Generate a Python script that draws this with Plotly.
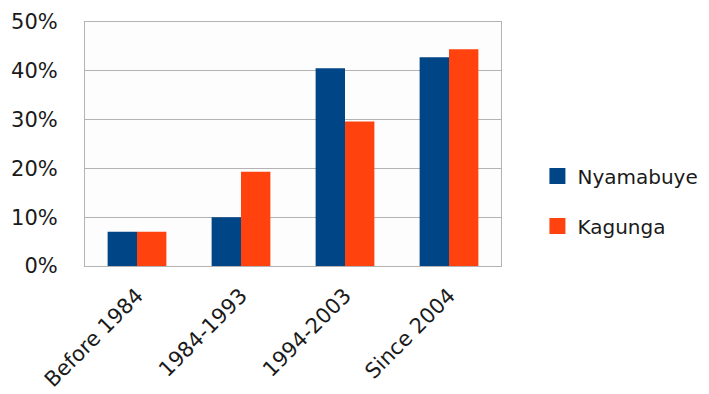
import plotly.graph_objects as go

categories = ["Before 1984", "1984-1993", "1994-2003", "Since 2004"]
nyamabuye = [0.070, 0.100, 0.405, 0.428]
kagunga = [0.070, 0.193, 0.296, 0.444]
series_names = ["Nyamabuye", "Kagunga"]
series_colors = ["#004586", "#FF420E"]
y_ticks = [0, 0.1, 0.2, 0.3, 0.4, 0.5]
y_tick_labels = ["0%", "10%", "20%", "30%", "40%", "50%"]

FONT = "DejaVu Sans"
TEXT = "#1a1a1a"
GRID = "#b3b3b3"

fig = go.Figure()
for name, vals, col in zip(series_names, [nyamabuye, kagunga], series_colors):
    fig.add_trace(go.Bar(
        x=categories, y=vals, name=name, marker_color=col,
        marker_line_width=0, showlegend=False,
    ))
    # legend entry drawn with a larger square swatch
    fig.add_trace(go.Scatter(
        x=[None], y=[None], mode="markers", name=name, legendgroup=name,
        marker=dict(symbol="square", size=16, color=col),
    ))

fig.update_layout(
    width=709, height=394,
    margin=dict(l=85, r=208, t=22, b=128, autoexpand=False),
    paper_bgcolor="white", plot_bgcolor="#fdfdfd",
    barmode="group", bargap=0.435, bargroupgap=0,
    font=dict(family=FONT, size=21, color=TEXT),
    legend=dict(
        xref="container", yref="container",
        x=0.758, y=0.49, xanchor="left", yanchor="middle",
        font=dict(family=FONT, size=20, color=TEXT),
        tracegroupgap=21, bgcolor="rgba(0,0,0,0)",
    ),
    xaxis=dict(
        tickangle=-45, showgrid=False, showline=True, linecolor=GRID,
        linewidth=1, mirror=True, ticks="", tickfont=dict(size=21),
        ticklabelstandoff=8,
    ),
    yaxis=dict(
        range=[0, 0.5], tickvals=y_ticks, ticktext=y_tick_labels,
        showgrid=True, gridcolor=GRID, gridwidth=1,
        showline=True, linecolor=GRID, linewidth=1, mirror=True,
        ticks="", ticklabelstandoff=22, zeroline=False,
        tickfont=dict(size=21),
    ),
)

fig.write_html("out.html")
